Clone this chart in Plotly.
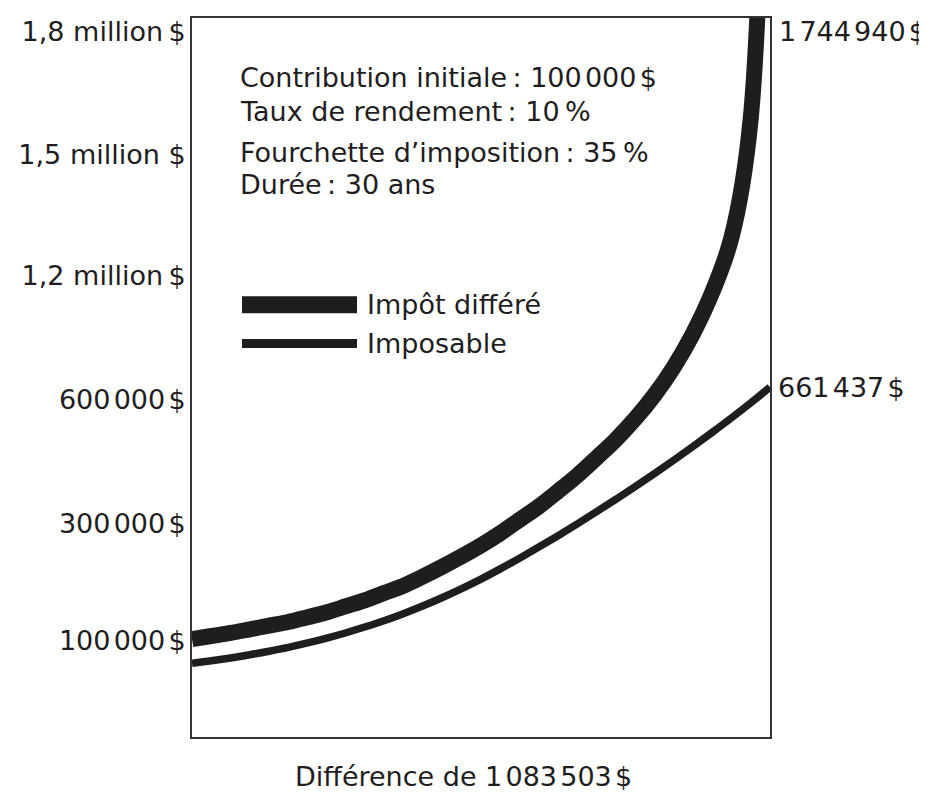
import plotly.graph_objects as go

# ---------------- data ----------------
years = list(range(31))

# Curve heights in the chart's own display units:
# 0 = level of the "100 000 $" label, one unit is about one label step.
deferred = [0.01, 0.035, 0.06, 0.09, 0.12, 0.15, 0.19, 0.23, 0.28, 0.33,
            0.39, 0.45, 0.525, 0.605, 0.69, 0.78, 0.88, 0.99, 1.10, 1.225,
            1.355, 1.50, 1.65, 1.82, 2.015, 2.245, 2.52, 2.86, 3.31, 4.29, 9.0]
taxable = [-0.19, -0.168, -0.145, -0.119, -0.09, -0.058, -0.022, 0.018, 0.062, 0.111,
           0.163, 0.221, 0.284, 0.352, 0.425, 0.503, 0.587, 0.675, 0.766, 0.86,
           0.957, 1.057, 1.159, 1.263, 1.37, 1.48, 1.593, 1.709, 1.828, 1.951, 2.08]

series_names = ["Impôt différé", "Imposable"]
final_values = [1744940, 661437]

GS = '<span style="font-size:10px"> </span>'   # narrow gap (digit grouping)
TS = "\u2009"                                   # thin space
tick_labels = [f"100{GS}000{GS}$", f"300{GS}000{GS}$", f"600{GS}000{GS}$",
               f"1,2 million{TS}$", "1,5 million $", f"1,8 million{TS}$"]
tick_positions = [0, 0.96, 1.98, 3.0, 3.99, 5.0]

info_lines = [f"Contribution initiale{TS}: 100{GS}000{GS}$",
              f"Taux de rendement{TS}: 10{TS}%",
              f"Fourchette d’imposition{TS}: 35{TS}%",
              f"Durée{TS}: 30 ans"]

# ---------------- styling ----------------
INK = "#1f1d1e"
FONT = "DejaVu Sans"
FS = 27
OFF = 8                       # page body margin
W, H = 927 - OFF, 794 - OFF
L, T = 192 - OFF, 16 - OFF
PW, PH = 578, 721
R = W - L - PW
B = H - T - PH


def money(v):
    return f"{v:,}".replace(",", GS) + GS + "$"


def pyp(page_y):   # page pixel row -> paper y
    return (T + PH - (page_y - OFF)) / PH


def pxp(page_x):   # page pixel column -> paper x
    return ((page_x - OFF) - L) / PW


fig = go.Figure()
fig.add_trace(go.Scatter(x=years, y=deferred, mode="lines", name=series_names[0],
                         line=dict(color=INK, width=16, shape="spline", smoothing=1.0),
                         showlegend=False))
fig.add_trace(go.Scatter(x=years, y=taxable, mode="lines", name=series_names[1],
                         line=dict(color=INK, width=7.5, shape="spline", smoothing=1.0),
                         showlegend=False))

txtfont = dict(family=FONT, size=FS, color=INK)
annotations = []
# info block
for line, ypix in zip(info_lines, [76, 110, 151, 183]):
    annotations.append(dict(text=line, xref="paper", yref="paper", x=pxp(238), y=pyp(ypix),
                            xanchor="left", yanchor="middle", showarrow=False, font=txtfont))
# legend (drawn by hand)
shapes = [
    dict(type="rect", xref="paper", yref="paper", x0=pxp(242), x1=pxp(357),
         y0=pyp(312), y1=pyp(295), fillcolor=INK, line=dict(width=0)),
    dict(type="rect", xref="paper", yref="paper", x0=pxp(242), x1=pxp(357),
         y0=pyp(347), y1=pyp(338), fillcolor=INK, line=dict(width=0)),
]
for name, ypix in zip(series_names, [303, 342]):
    annotations.append(dict(text=name, xref="paper", yref="paper", x=pxp(365), y=pyp(ypix),
                            xanchor="left", yanchor="middle", showarrow=False, font=txtfont))
# end values
annotations.append(dict(text=money(final_values[0]), x=years[-1], y=tick_positions[-1],
                        xanchor="left", yanchor="middle", xshift=7, showarrow=False,
                        font=txtfont))
annotations.append(dict(text=money(final_values[1]), x=years[-1], y=taxable[-1],
                        xanchor="left", yanchor="middle", xshift=6, showarrow=False,
                        font=txtfont))
# difference
annotations.append(dict(text="Différence de " + money(final_values[0] - final_values[1]),
                        xref="paper", yref="paper", x=pxp(463), y=pyp(777),
                        xanchor="center", yanchor="middle", showarrow=False, font=txtfont))

fig.update_layout(
    width=W, height=H,
    margin=dict(l=L, r=R, t=T, b=B, pad=0),
    paper_bgcolor="white", plot_bgcolor="white",
    showlegend=False,
    annotations=annotations,
    shapes=shapes,
    xaxis=dict(range=[0, 30], showgrid=False, zeroline=False, showticklabels=False,
               ticks="", showline=True, mirror=True, linecolor="#333333", linewidth=2),
    yaxis=dict(range=[-0.795, 5.115], showgrid=False, zeroline=False,
               tickmode="array", tickvals=tick_positions, ticktext=tick_labels,
               ticks="", ticklabelstandoff=-1,
               tickfont=txtfont,
               showline=True, mirror=True, linecolor="#333333", linewidth=2),
)

fig.write_html("out.html")
